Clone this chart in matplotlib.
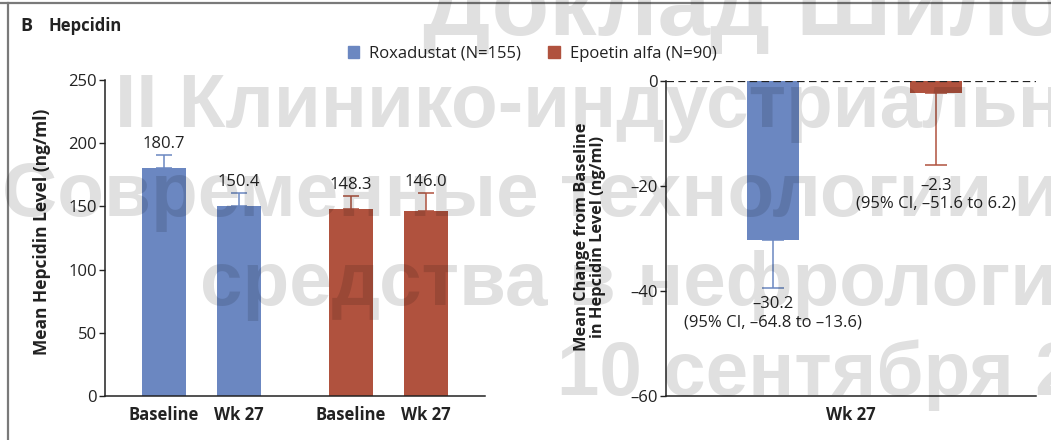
import numpy as np
import matplotlib.pyplot as plt
from matplotlib.lines import Line2D
from matplotlib.patches import Patch

plt.rcParams['font.family'] = ['Open Sans', 'DejaVu Sans']
plt.rcParams['font.size'] = 12
plt.rcParams['text.color'] = '#222222'
plt.rcParams['axes.edgecolor'] = '#222222'
plt.rcParams['xtick.color'] = '#222222'
plt.rcParams['ytick.color'] = '#222222'

# Mean hepcidin level (ng/ml) by group and visit, with upper error
group_names = ["Roxadustat (N=155)", "Epoetin alfa (N=90)"]
visits = ["Baseline", "Wk 27"]
rox_level = [180.7, 150.4]
rox_level_err = [10.2, 10.2]
epo_level = [148.3, 146.0]
epo_level_err = [10.2, 14.4]
level_ticks = [0, 50, 100, 150, 200, 250]

# Mean change from baseline at week 27
change_label = "Wk 27"
change = [-30.2, -2.3]
change_err = [9.2, 13.7]
change_ci = ["(95% CI, \u201364.8 to \u201313.6)", "(95% CI, \u201351.6 to 6.2)"]
change_ticks = [0, -20, -40, -60]

BLUE = '#6b87c1'
RED = '#b0523e'
W, H = 1051, 440


def fmt_minus(v, digits=1):
    s = f"{abs(v):.{digits}f}"
    return "\u2013" + s if v < 0 else s


fig = plt.figure(figsize=(W / 100, H / 100), dpi=100)

# ---------------------------------------------------------------------------
# Left panel: mean level
# ---------------------------------------------------------------------------
ax1 = fig.add_axes([105 / W, 44 / H, 380 / W, 316 / H])
x_rox = np.array([0.0, 1.0])
x_epo = np.array([2.5, 3.5])
bw = 0.587
for xs, vals, errs, col in [(x_rox, rox_level, rox_level_err, BLUE),
                            (x_epo, epo_level, epo_level_err, RED)]:
    ax1.bar(xs, vals, bw, color=col, zorder=2)
    ax1.errorbar(xs, vals, yerr=[np.zeros(len(vals)), errs], fmt='none',
                 ecolor=col, elinewidth=1.1, capsize=5.8, capthick=1.1, zorder=1)
    for x, v, e in zip(xs, vals, errs):
        ax1.annotate(f"{v:.1f}", (x, v + e), xytext=(0, 5), textcoords='offset points',
                     ha='center', va='baseline')

ax1.set_xlim(-0.787, 4.287)
ax1.set_ylim(0, 250)
ax1.set_yticks(level_ticks)
ax1.set_xticks(np.concatenate([x_rox, x_epo]))
ax1.set_xticklabels(visits * 2, fontweight='bold')
ax1.tick_params(axis='x', length=0, pad=7, labelsize=12)
ax1.tick_params(axis='y', length=4, width=1, labelsize=12, pad=2)
for s in ['top', 'right']:
    ax1.spines[s].set_visible(False)
for s in ['left', 'bottom']:
    ax1.spines[s].set_linewidth(1.1)
fig.text(42 / W, 1 - 232 / H, "Mean Hepcidin Level (ng/ml)", rotation=90,
         ha='center', va='center', fontweight='bold', fontsize=12.5)

# ---------------------------------------------------------------------------
# Right panel: change from baseline
# ---------------------------------------------------------------------------
ax2 = fig.add_axes([666 / W, 44 / H, 370 / W, 315 / H])
xc = np.array([0.0, 1.0])
label_gap = [6, 9]
ax2.bar(xc, change, 0.318, color=[BLUE, RED], zorder=2)
for x, v, e, col, ci, gap in zip(xc, change, change_err, [BLUE, RED], change_ci, label_gap):
    ax2.errorbar([x], [v], yerr=[[e], [0]], fmt='none', ecolor=col,
                 elinewidth=1.1, capsize=7.8, capthick=1.1, zorder=1)
    ax2.annotate(fmt_minus(v) + "\n" + ci, (x, v - e), xytext=(0, -gap),
                 textcoords='offset points', ha='center', va='top',
                 multialignment='center', linespacing=1.2)
ax2.axhline(0, color='#222222', lw=0.9, ls=(0, (6, 3.5)), zorder=3)

xlo, xhi = -0.654, 1.609
ax2.set_xlim(xlo, xhi)
ax2.set_ylim(-60, 0)
ax2.set_yticks(change_ticks)
ax2.set_yticklabels([fmt_minus(t, 0) for t in change_ticks])
ax2.set_xticks([(xlo + xhi) / 2])
ax2.set_xticklabels([change_label], fontweight='bold')
ax2.tick_params(axis='x', length=0, pad=7, labelsize=12)
ax2.tick_params(axis='y', length=4, width=1, labelsize=12, pad=2)
for s in ['top', 'right']:
    ax2.spines[s].set_visible(False)
for s in ['left', 'bottom']:
    ax2.spines[s].set_linewidth(1.1)
fig.text(590 / W, 1 - 237 / H, "Mean Change from Baseline\nin Hepcidin Level (ng/ml)",
         rotation=90, ha='center', va='center', fontweight='bold', fontsize=11.8,
         multialignment='center', linespacing=1.05)

# ---------------------------------------------------------------------------
# Legend, panel title, frame
# ---------------------------------------------------------------------------
handles = [Patch(color=BLUE), Patch(color=RED)]
fig.legend(handles, group_names, loc='center', ncol=2, frameon=False,
           bbox_to_anchor=(532 / W, 1 - 54 / H), handlelength=0.7, handleheight=0.7,
           handletextpad=0.6, columnspacing=1.6, fontsize=12)

fig.text(20 / W, 1 - 26 / H, "B", fontweight='bold', fontsize=13, va='center')
fig.text(48 / W, 1 - 26 / H, "Hepcidin", fontweight='bold', fontsize=12, va='center')

fig.add_artist(Line2D([0, 1], [1 - 3 / H] * 2, transform=fig.transFigure,
                      color='#7a7a7a', lw=1.6))
fig.add_artist(Line2D([8 / W] * 2, [0, 1 - 3 / H], transform=fig.transFigure,
                      color='#7a7a7a', lw=1.6))

# Conference overlay text across the figure
overlay = [("Доклад Шило", 423, 35, 68),
           ("II Клинико-индустриальный", 115, 127, 55),
           ("Современные технологии и", 2, 216, 55),
           ("средства в нефрологии", 200, 305, 55),
           ("10 сентября 2", 557, 395, 55)]
for txt, x, y, size in overlay:
    fig.text(x / W, 1 - y / H, txt, fontsize=size, fontweight='bold',
             family=['Liberation Sans', 'DejaVu Sans'], color='black', alpha=0.12,
             ha='left', va='baseline', zorder=20)

fig.savefig("out.png", dpi=100)
